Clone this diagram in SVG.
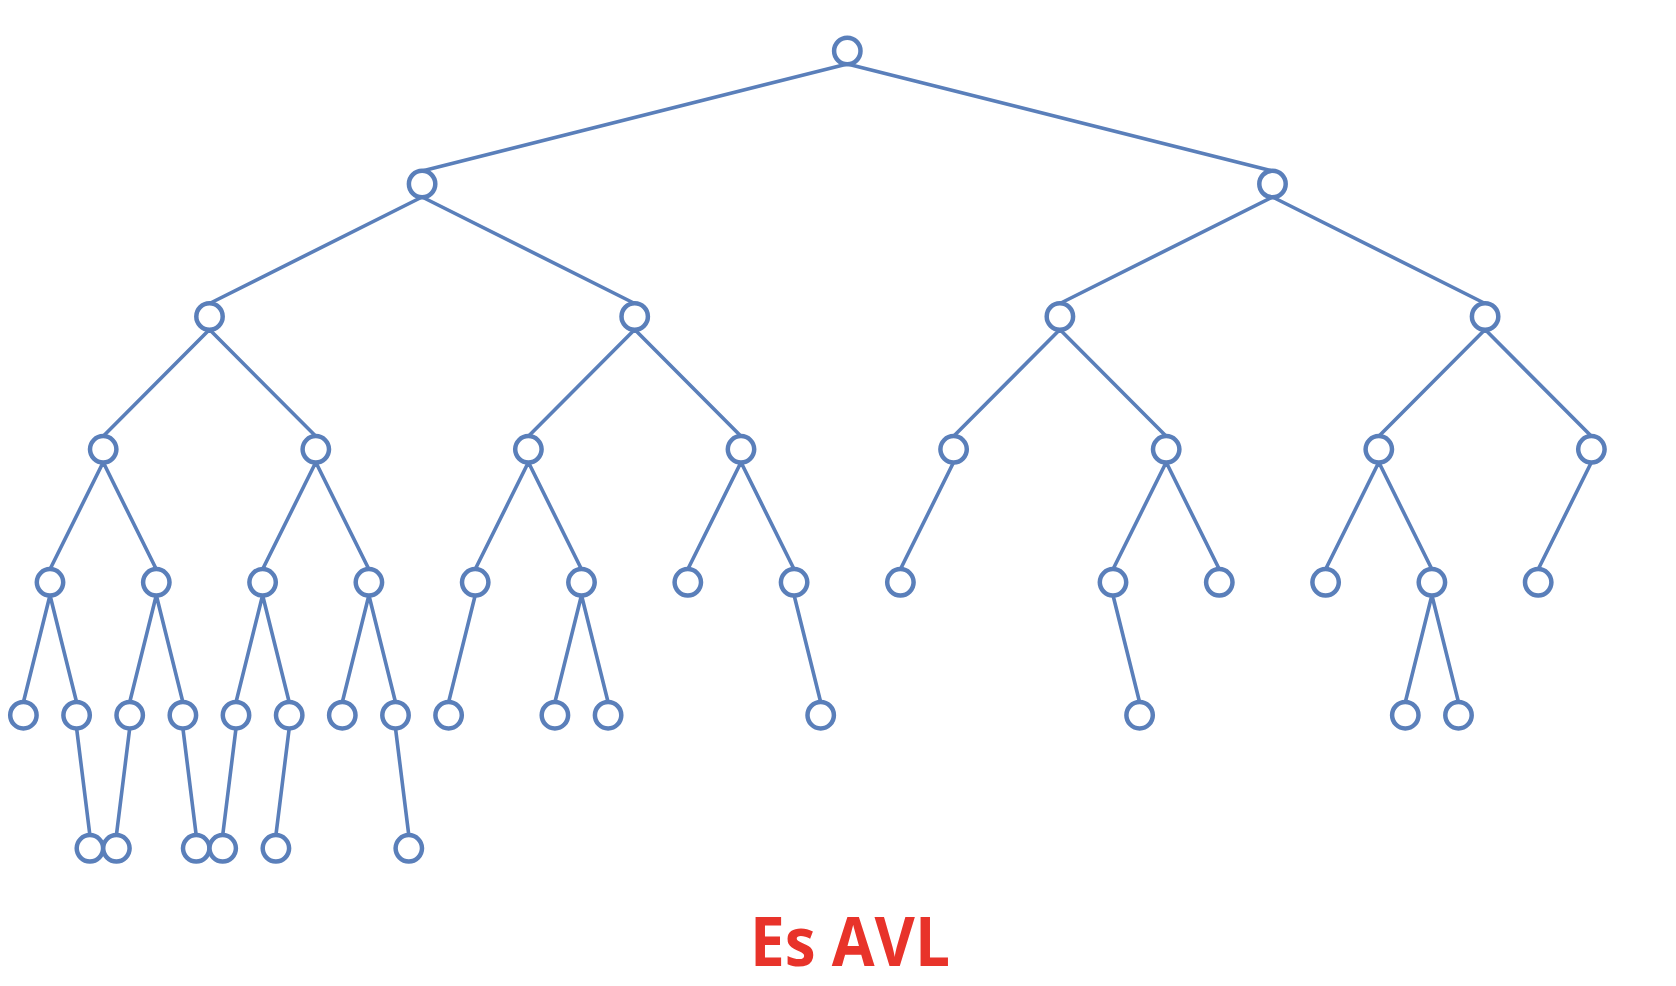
<svg xmlns="http://www.w3.org/2000/svg" width="1676" height="986" viewBox="0 0 1676 986">
<style>
.e{stroke:#5a7fba;stroke-width:3.6;fill:none;stroke-linecap:round}
.n{fill:#fff;stroke:#5a7fba;stroke-width:4.5}
.t{font-family:"Open Sans","Liberation Sans",sans-serif;font-weight:bold;font-size:68px;fill:#e8332a}
</style>
<rect width="1676" height="986" fill="#fff"/>
<g id="connectors">
<path class="e" d="M847.3 64L422.1 171M847.3 64L1272.5 171
M422.1 197L209.5 303.5M422.1 197L634.7 303.5M1272.5 197L1059.9 303.5M1272.5 197L1485.1 303.5
M209.5 329.5L103.2 436.3M209.5 329.5L315.8 436.3M634.7 329.5L528.4 436.3M634.7 329.5L741 436.3
M1059.9 329.5L953.6 436.3M1059.9 329.5L1166.2 436.3M1485.1 329.5L1378.8 436.3M1485.1 329.5L1591.4 436.3
M103.2 462.3L50 569.3M103.2 462.3L156.3 569.3M315.8 462.3L262.6 569.3M315.8 462.3L368.9 569.3
M528.4 462.3L475.2 569.3M528.4 462.3L581.5 569.3M741 462.3L687.8 569.3M741 462.3L794.1 569.3
M953.6 462.3L900.4 569.3M1166.2 462.3L1113 569.3M1166.2 462.3L1219.3 569.3
M1378.8 462.3L1325.6 569.3M1378.8 462.3L1431.9 569.3M1591.4 462.3L1538.2 569.3
M50 595.3L23.4 702.2M50 595.3L76.6 702.2M156.3 595.3L129.7 702.2M156.3 595.3L182.9 702.2
M262.6 595.3L236 702.2M262.6 595.3L289.2 702.2M368.9 595.3L342.3 702.2M368.9 595.3L395.5 702.2
M475.2 595.3L448.6 702.2M581.5 595.3L554.9 702.2M581.5 595.3L608.1 702.2M794.1 595.3L820.7 702.2
M1113 595.3L1139.6 702.2M1431.9 595.3L1405.3 702.2M1431.9 595.3L1458.5 702.2
M76.6 728.2L89.9 835.3M129.7 728.2L116.4 835.3M182.9 728.2L196.2 835.3M236 728.2L222.7 835.3
M289.2 728.2L275.9 835.3M395.5 728.2L408.8 835.3"/>
</g>
<g id="n1"><circle class="n" cx="847.3" cy="51" r="13.2"/></g>
<g id="n2"><circle class="n" cx="422.1" cy="184" r="13.2"/></g>
<g id="n3"><circle class="n" cx="1272.5" cy="184" r="13.2"/></g>
<g id="n4"><circle class="n" cx="209.5" cy="316.5" r="13.2"/></g>
<g id="n5"><circle class="n" cx="634.7" cy="316.5" r="13.2"/></g>
<g id="n6"><circle class="n" cx="1059.9" cy="316.5" r="13.2"/></g>
<g id="n7"><circle class="n" cx="1485.1" cy="316.5" r="13.2"/></g>
<g id="n8"><circle class="n" cx="103.2" cy="449.3" r="13.2"/></g>
<g id="n9"><circle class="n" cx="315.8" cy="449.3" r="13.2"/></g>
<g id="n10"><circle class="n" cx="528.4" cy="449.3" r="13.2"/></g>
<g id="n11"><circle class="n" cx="741" cy="449.3" r="13.2"/></g>
<g id="n12"><circle class="n" cx="953.6" cy="449.3" r="13.2"/></g>
<g id="n13"><circle class="n" cx="1166.2" cy="449.3" r="13.2"/></g>
<g id="n14"><circle class="n" cx="1378.8" cy="449.3" r="13.2"/></g>
<g id="n15"><circle class="n" cx="1591.4" cy="449.3" r="13.2"/></g>
<g id="n16"><circle class="n" cx="50" cy="582.3" r="13.2"/></g>
<g id="n17"><circle class="n" cx="156.3" cy="582.3" r="13.2"/></g>
<g id="n18"><circle class="n" cx="262.6" cy="582.3" r="13.2"/></g>
<g id="n19"><circle class="n" cx="368.9" cy="582.3" r="13.2"/></g>
<g id="n20"><circle class="n" cx="475.2" cy="582.3" r="13.2"/></g>
<g id="n21"><circle class="n" cx="581.5" cy="582.3" r="13.2"/></g>
<g id="n22"><circle class="n" cx="687.8" cy="582.3" r="13.2"/></g>
<g id="n23"><circle class="n" cx="794.1" cy="582.3" r="13.2"/></g>
<g id="n24"><circle class="n" cx="900.4" cy="582.3" r="13.2"/></g>
<g id="n25"><circle class="n" cx="1113" cy="582.3" r="13.2"/></g>
<g id="n26"><circle class="n" cx="1219.3" cy="582.3" r="13.2"/></g>
<g id="n27"><circle class="n" cx="1325.6" cy="582.3" r="13.2"/></g>
<g id="n28"><circle class="n" cx="1431.9" cy="582.3" r="13.2"/></g>
<g id="n29"><circle class="n" cx="1538.2" cy="582.3" r="13.2"/></g>
<g id="n30"><circle class="n" cx="23.4" cy="715.2" r="13.2"/></g>
<g id="n31"><circle class="n" cx="76.6" cy="715.2" r="13.2"/></g>
<g id="n32"><circle class="n" cx="129.7" cy="715.2" r="13.2"/></g>
<g id="n33"><circle class="n" cx="182.9" cy="715.2" r="13.2"/></g>
<g id="n34"><circle class="n" cx="236" cy="715.2" r="13.2"/></g>
<g id="n35"><circle class="n" cx="289.2" cy="715.2" r="13.2"/></g>
<g id="n36"><circle class="n" cx="342.3" cy="715.2" r="13.2"/></g>
<g id="n37"><circle class="n" cx="395.5" cy="715.2" r="13.2"/></g>
<g id="n38"><circle class="n" cx="448.6" cy="715.2" r="13.2"/></g>
<g id="n39"><circle class="n" cx="554.9" cy="715.2" r="13.2"/></g>
<g id="n40"><circle class="n" cx="608.1" cy="715.2" r="13.2"/></g>
<g id="n41"><circle class="n" cx="820.7" cy="715.2" r="13.2"/></g>
<g id="n42"><circle class="n" cx="1139.6" cy="715.2" r="13.2"/></g>
<g id="n43"><circle class="n" cx="1405.3" cy="715.2" r="13.2"/></g>
<g id="n44"><circle class="n" cx="1458.5" cy="715.2" r="13.2"/></g>
<g id="n45"><circle class="n" cx="89.9" cy="848.3" r="13.2"/></g>
<g id="n46"><circle class="n" cx="116.4" cy="848.3" r="13.2"/></g>
<g id="n47"><circle class="n" cx="196.2" cy="848.3" r="13.2"/></g>
<g id="n48"><circle class="n" cx="222.7" cy="848.3" r="13.2"/></g>
<g id="n49"><circle class="n" cx="275.9" cy="848.3" r="13.2"/></g>
<g id="n50"><circle class="n" cx="408.8" cy="848.3" r="13.2"/></g>
<g id="label"><text class="t" x="850" y="966" text-anchor="middle" textLength="200" lengthAdjust="spacingAndGlyphs">Es AVL</text></g>
</svg>
